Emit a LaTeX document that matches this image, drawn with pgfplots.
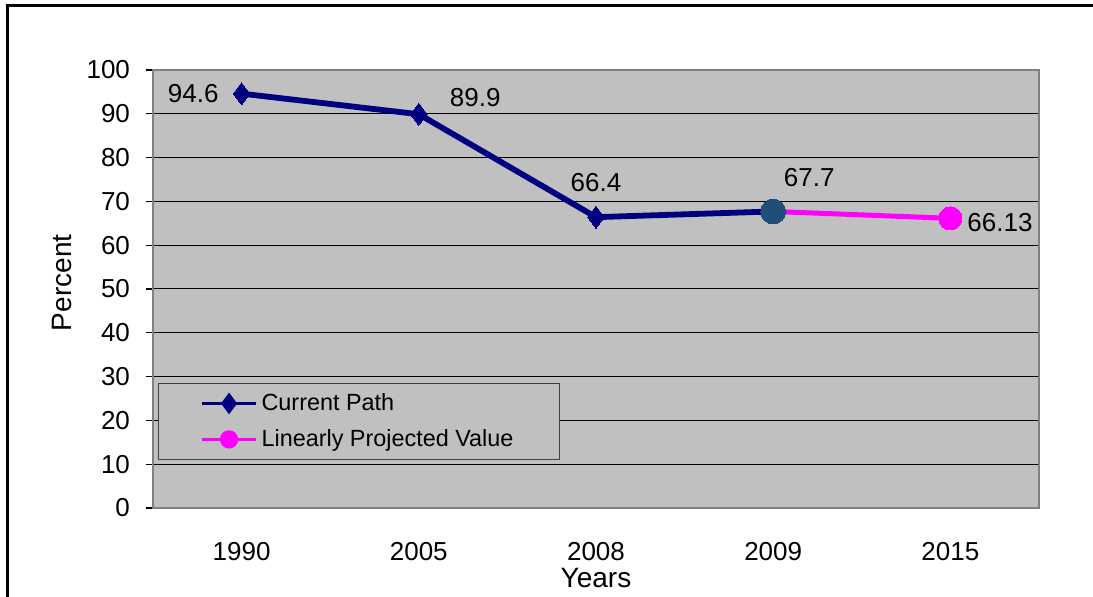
\documentclass[border=0pt]{standalone}
\usepackage{fontspec}
\setmainfont{Liberation Sans}
\usepackage{pgfplots}
\pgfplotsset{compat=1.18}
\definecolor{navyc}{RGB}{0,0,128}
\definecolor{plotgrey}{RGB}{192,192,192}
\definecolor{steelc}{RGB}{31,78,121}
\definecolor{magc}{RGB}{255,0,255}
\definecolor{bordergrey}{RGB}{128,128,128}
\definecolor{legborder}{RGB}{64,64,64}
\newcommand{\lblfont}{\fontsize{13}{15}\selectfont}
\newcommand{\legfont}{\fontsize{11.7}{14}\selectfont}
\newcommand{\axfont}{\fontsize{14}{16}\selectfont}
\begin{document}
\begin{tikzpicture}
\useasboundingbox (0pt,0pt) rectangle (546.5pt,298.5pt);
\draw[line width=1.5pt] (3.5pt,-3pt) -- (3.5pt,295.5pt) -- (552pt,295.5pt);
\begin{axis}[
  at={(76.5pt,44.5pt)}, anchor=south west,
  scale only axis, width=443pt, height=219pt,
  xmin=-0.5, xmax=4.5, ymin=0, ymax=100,
  ytick={0,10,...,100},
  xtick={0,1,2,3,4},
  xticklabels={1990,2005,2008,2009,2015},
  extra x ticks={-0.5,0.5,1.5,2.5,3.5,4.5},
  extra x tick labels={},
  extra x tick style={major tick length=3.5pt, tick style={black, line width=0.6pt}},
  tick align=outside,
  xtick pos=bottom, ytick pos=left,
  x tick style={draw=none},
  y tick style={black, line width=0.6pt},
  major tick length=3.5pt,
  ymajorgrids,
  grid style={black, line width=0.5pt},
  axis background/.style={fill=plotgrey},
  axis line style={draw=bordergrey, line width=1pt},
  /pgf/number format/assume math mode=true,
  tick label style={font=\lblfont, black},
  yticklabel style={xshift=-4.5pt},
  xticklabel style={yshift=-10pt},
  ylabel={Percent},
  xlabel={Years},
  every axis y label/.style={at={(axis description cs:-0.1027,0.514)}, rotate=90, anchor=center, font=\axfont},
  every axis x label/.style={at={(axis description cs:0.5,-0.16)}, anchor=center, font=\axfont},
  legend style={at={(axis description cs:0.0056,0.1096)}, anchor=south west,
    fill=plotgrey, draw=legborder, line width=0.6pt,
    inner xsep=21pt, inner ysep=3pt, row sep=4pt,
    font=\legfont},
  legend cell align=left,
]
\addplot[navyc, line width=2.9pt, mark=diamond*, mark size=5.5pt,
  mark options={fill=navyc, line width=0pt},
  legend image code/.code={
    \draw[navyc, line width=1.2pt] (0pt,0pt) -- (27pt,0pt);
    \draw[navyc] plot[mark=diamond*, mark size=3pt, mark options={fill=navyc}] coordinates {(13.5pt,0pt)};
  }] coordinates {(0,94.6) (1,89.9) (2,66.4) (3,67.7)};
\addlegendentry{Current Path}
\addplot[magc, line width=2.5pt, mark=*, mark size=5.8pt,
  mark options={fill=magc, line width=0pt},
  legend image code/.code={
    \draw[magc, line width=1.5pt] (0pt,0pt) -- (27pt,0pt);
    \fill[magc] (13.5pt,0pt) circle (3.3pt);
  }] coordinates {(3,67.7) (4,66.13)};
\addlegendentry{Linearly Projected Value}
\addplot[only marks, forget plot, steelc, mark=*, mark size=6.2pt, mark options={fill=steelc, line width=0pt}] coordinates {(3,67.7)};
% data labels
\addplot[draw=none, forget plot, black, nodes near coords, point meta=explicit symbolic,
  nodes near coords style={anchor=east, xshift=-8pt, font=\lblfont, black}] coordinates {(0,94.6)[94.6]};
\addplot[draw=none, forget plot, black, nodes near coords, point meta=explicit symbolic,
  nodes near coords style={anchor=west, xshift=12pt, yshift=8.5pt, font=\lblfont, black}] coordinates {(1,89.9)[89.9]};
\addplot[draw=none, forget plot, black, nodes near coords, point meta=explicit symbolic,
  nodes near coords style={anchor=center, yshift=17.5pt, font=\lblfont, black}] coordinates {(2,66.4)[66.4]};
\addplot[draw=none, forget plot, black, nodes near coords, point meta=explicit symbolic,
  nodes near coords style={anchor=center, xshift=18pt, yshift=17pt, font=\lblfont, black}] coordinates {(3,67.7)[67.7]};
\addplot[draw=none, forget plot, black, nodes near coords, point meta=explicit symbolic,
  nodes near coords style={anchor=west, xshift=5pt, yshift=-2pt, font=\lblfont, black}] coordinates {(4,66.13)[66.13]};
\end{axis}
\end{tikzpicture}
\end{document}
